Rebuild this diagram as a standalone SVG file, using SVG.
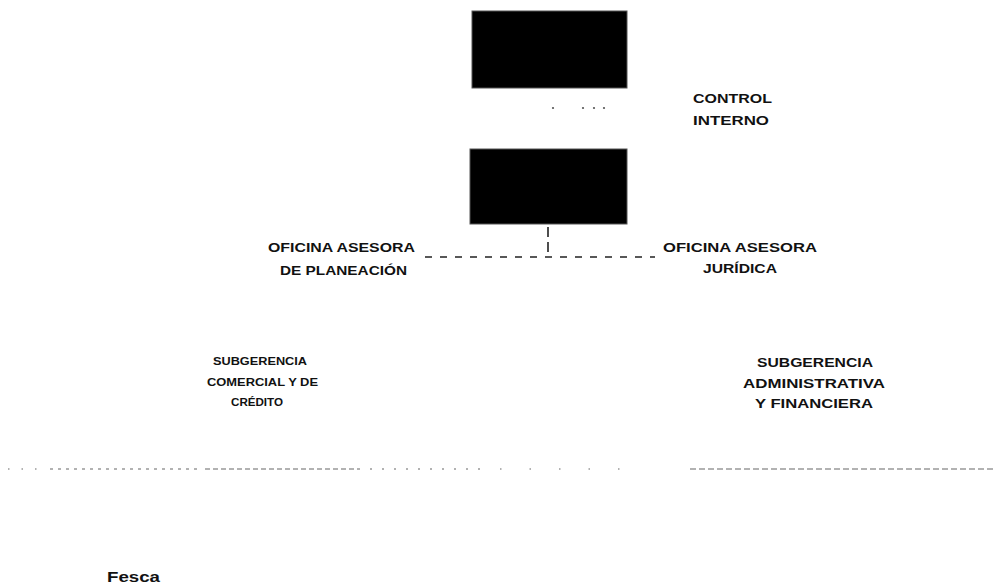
<svg xmlns="http://www.w3.org/2000/svg" width="1002" height="586" viewBox="0 0 1002 586">
<style>
.box{fill:#000;stroke:#555;stroke-width:1}
.lbl{font-family:"Liberation Sans","DejaVu Sans",sans-serif;font-weight:bold;font-size:13px;fill:#111}
.sm{font-size:11px}
.dash{stroke:#222;stroke-width:1.6;fill:none;stroke-dasharray:8 8}
.dot{stroke:#999;stroke-width:1.3;fill:none}
</style>
<rect width="1002" height="586" fill="#fff"/>
<g id="node-top"><rect class="box" x="472" y="11" width="155" height="77"/></g>
<g id="node-second"><rect class="box" x="470" y="149" width="157" height="75"/></g>
<g id="node-control-interno">
<text class="lbl" x="693" y="103" textLength="79" lengthAdjust="spacingAndGlyphs">CONTROL</text>
<text class="lbl" x="693" y="125" textLength="76" lengthAdjust="spacingAndGlyphs">INTERNO</text>
</g>
<g id="node-planeacion">
<text class="lbl" x="268" y="252" textLength="147" lengthAdjust="spacingAndGlyphs">OFICINA ASESORA</text>
<text class="lbl" x="280" y="275" textLength="127" lengthAdjust="spacingAndGlyphs">DE PLANEACIÓN</text>
</g>
<g id="node-juridica">
<text class="lbl" x="663" y="252" textLength="154" lengthAdjust="spacingAndGlyphs">OFICINA  ASESORA</text>
<text class="lbl" x="703" y="273" textLength="74" lengthAdjust="spacingAndGlyphs">JURÍDICA</text>
</g>
<g id="node-comercial">
<text class="lbl sm" x="213" y="365" textLength="94" lengthAdjust="spacingAndGlyphs">SUBGERENCIA</text>
<text class="lbl sm" x="207" y="386" textLength="111" lengthAdjust="spacingAndGlyphs">COMERCIAL Y DE</text>
<text class="lbl sm" x="231" y="406" textLength="52" lengthAdjust="spacingAndGlyphs">CRÉDITO</text>
</g>
<g id="node-administrativa">
<text class="lbl" x="757" y="367" textLength="116" lengthAdjust="spacingAndGlyphs">SUBGERENCIA</text>
<text class="lbl" x="743" y="388" textLength="142" lengthAdjust="spacingAndGlyphs">ADMINISTRATIVA</text>
<text class="lbl" x="755" y="408" textLength="118" lengthAdjust="spacingAndGlyphs">Y FINANCIERA</text>
</g>
<g id="node-fesca">
<text class="lbl" x="107" y="582" style="font-size:15px" textLength="53" lengthAdjust="spacingAndGlyphs">Fesca</text>
</g>
<g id="connectors">
<line class="dash" x1="548" y1="227" x2="548" y2="257" style="stroke-dasharray:10 5"/>
<line class="dash" x1="425" y1="257" x2="655" y2="257" style="stroke-dasharray:7 8"/>
<g fill="#555">
<circle cx="553" cy="108" r="1.1"/><circle cx="583" cy="108" r="1.1"/><circle cx="594" cy="108" r="1.1"/><circle cx="604" cy="108" r="1.1"/>
</g>
<line class="dot" x1="8" y1="469" x2="40" y2="469" style="stroke-dasharray:1.5 12"/>
<line class="dot" x1="50" y1="469" x2="200" y2="469" style="stroke-dasharray:3 5"/>
<line class="dot" x1="205" y1="469" x2="360" y2="469" style="stroke-dasharray:5 3"/>
<line class="dot" x1="370" y1="469" x2="480" y2="469" style="stroke-dasharray:2 10"/>
<line class="dot" x1="500" y1="469" x2="640" y2="469" style="stroke-dasharray:1.5 28"/>
<line class="dot" x1="690" y1="469" x2="995" y2="469" style="stroke-dasharray:6 3"/>
</g>
</svg>
